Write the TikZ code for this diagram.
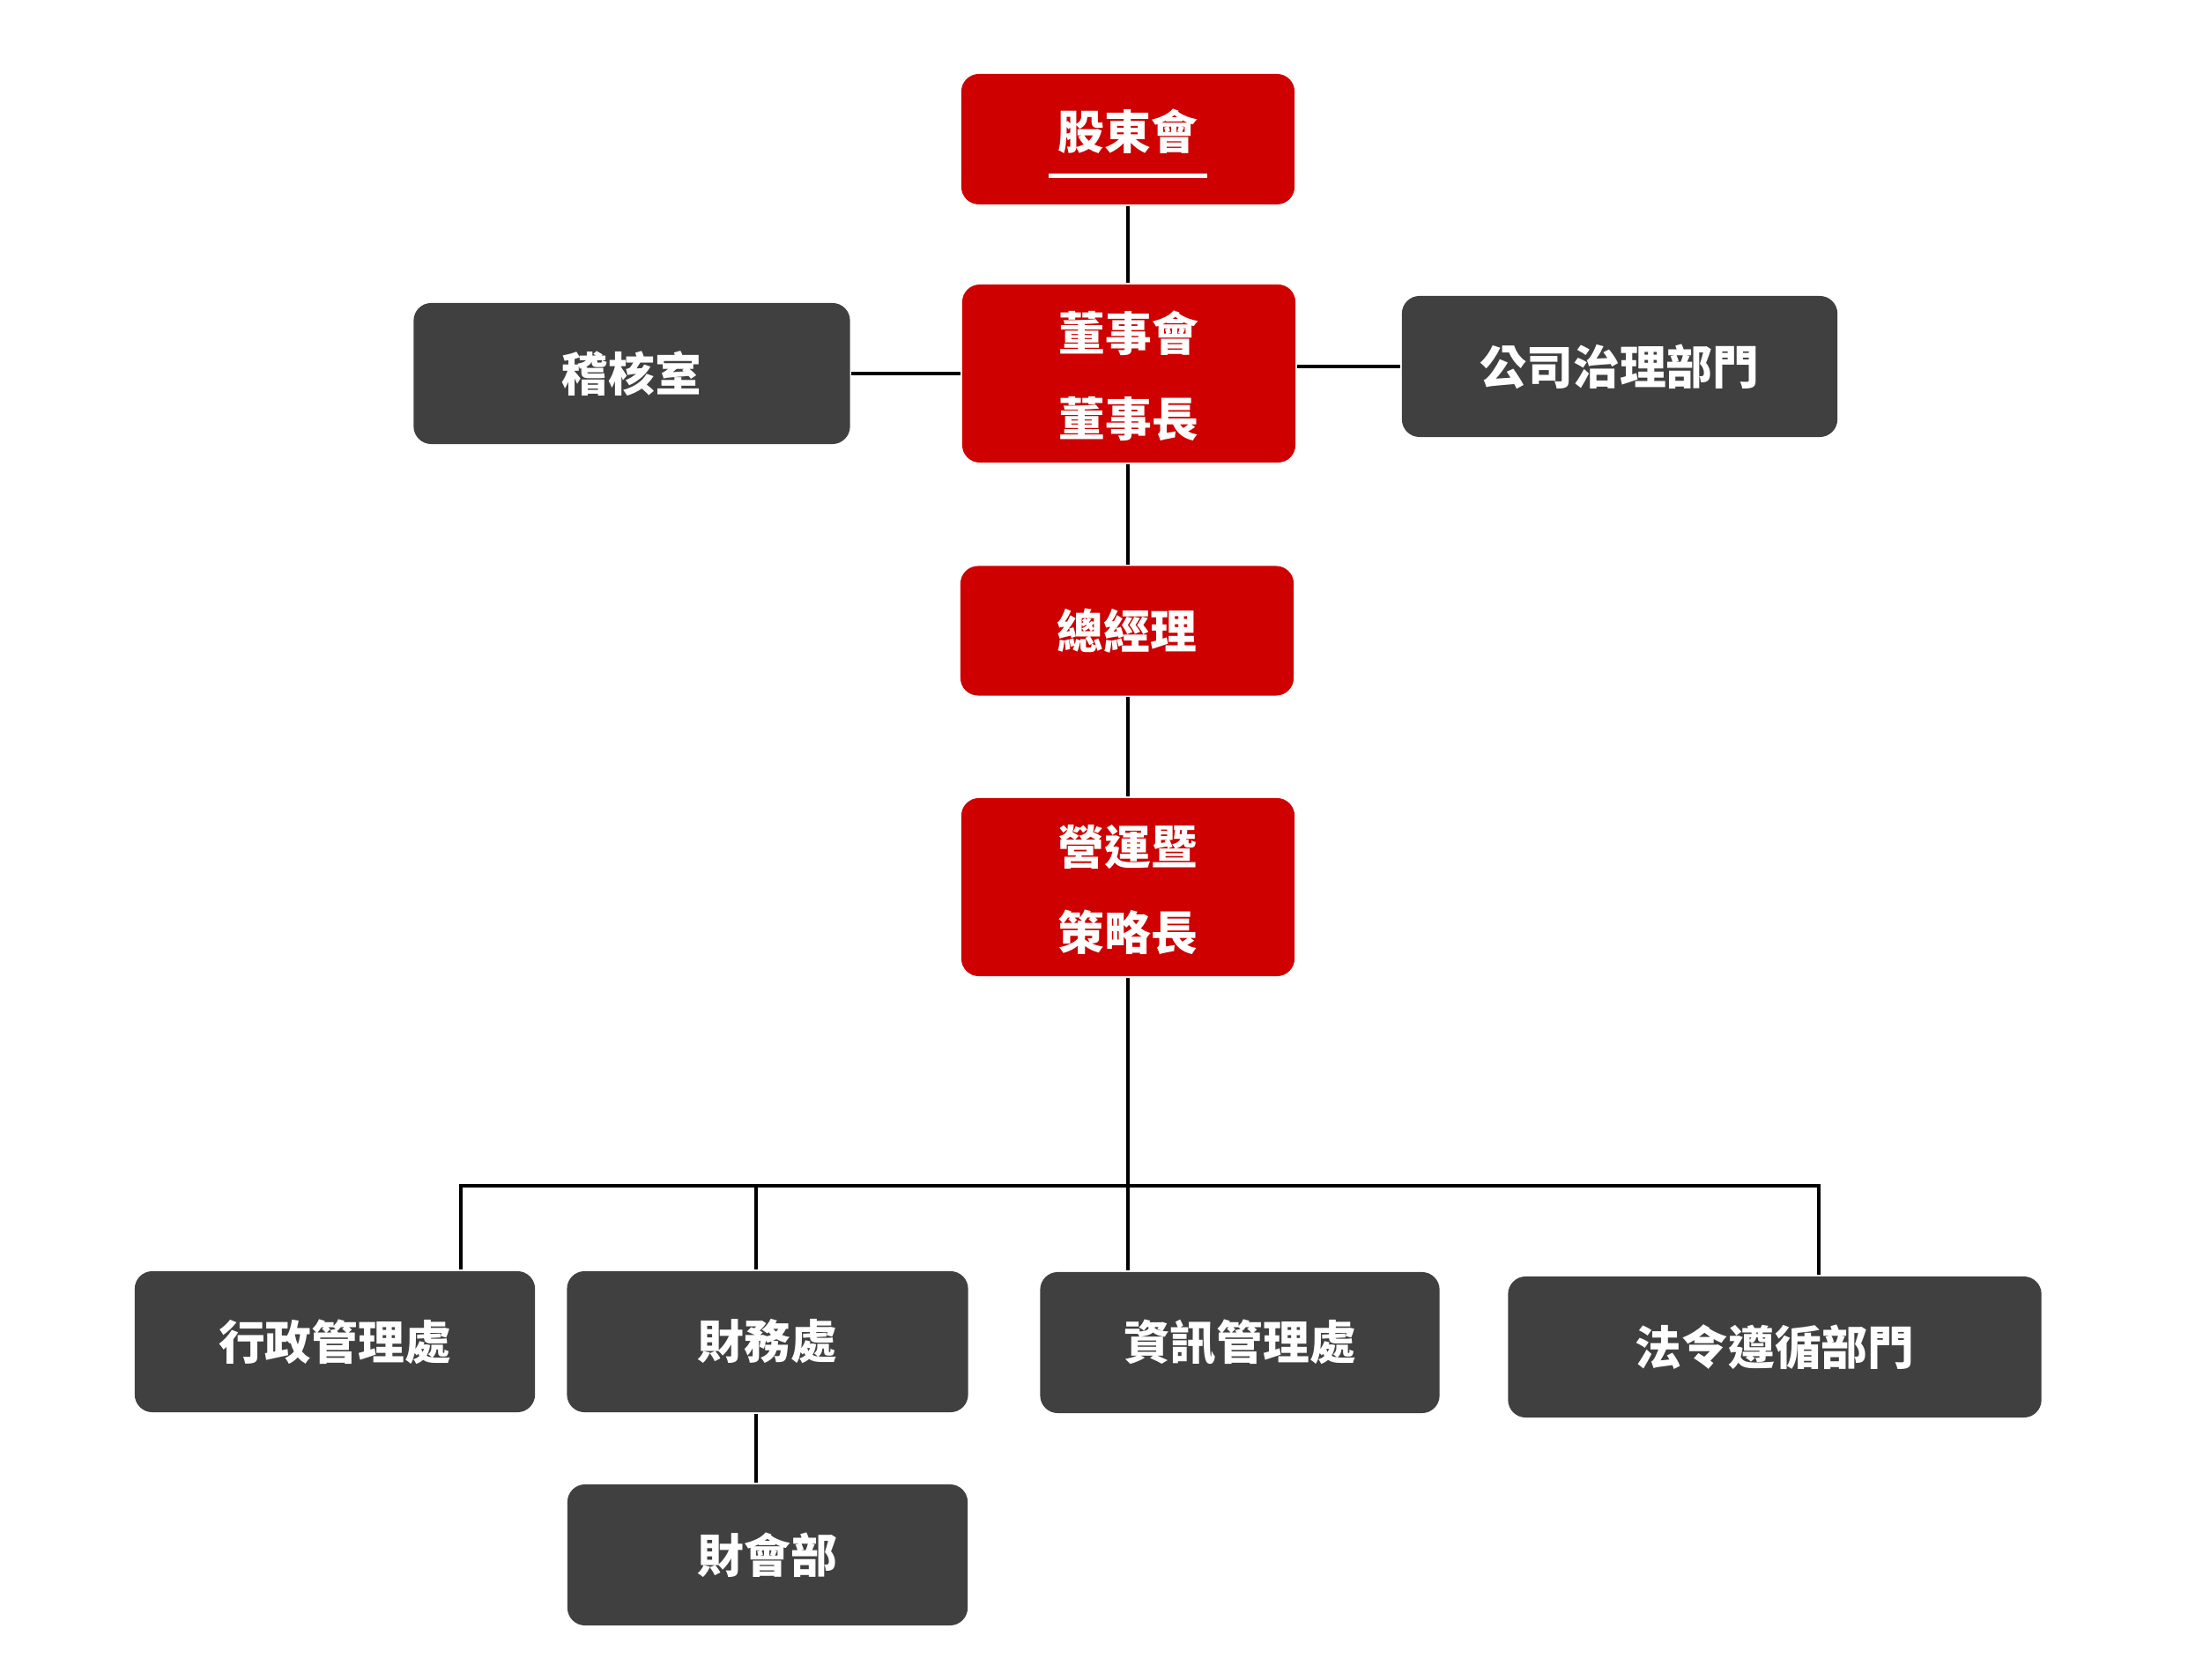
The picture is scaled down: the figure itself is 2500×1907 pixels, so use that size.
\documentclass[tikz,border=0pt]{standalone}
\usepackage{fontspec}
\setmainfont{Noto Sans CJK TC}
\definecolor{boxred}{RGB}{206,0,0}
\definecolor{boxgrey}{RGB}{64,64,64}

\begin{document}
\begin{tikzpicture}[x=0.01cm, y=-0.01cm, line width=0.035cm,
  box/.style={rounded corners=0.2cm, inner sep=0pt, text=white, align=center,
              font=\fontsize{15}{27.5}\selectfont\bfseries},
  redbox/.style={box, fill=boxred, minimum width=3.78cm},
  greybox/.style={box, fill=boxgrey, minimum height=1.6cm}]
  \useasboundingbox (0,0) rectangle (2500,1907);

  \node[redbox, minimum height=1.48cm,
        font=\fontsize{15}{9.25}\selectfont\bfseries] (SH) at (1280,158)  {\rule{0pt}{0.55cm}股東會\\\rule{1.79cm}{0.045cm}};
  \node[redbox, minimum height=2.02cm]                 (BD) at (1281,424)  {\rule{0pt}{0.51cm}董事會\\董事長};
  \node[greybox, minimum width=4.95cm]                 (AU) at (717,424)   {稽核室};
  \node[greybox, minimum width=4.94cm]                 (CG) at (1838,416)  {公司治理部門};
  \node[redbox, minimum height=1.47cm]                 (GM) at (1279,716)  {總經理};
  \node[redbox, minimum height=2.02cm]                 (CS) at (1280,1007) {\rule{0pt}{0.51cm}營運暨\\策略長};
  \node[greybox, minimum width=4.54cm]                 (AD) at (380,1523)  {行政管理處};
  \node[greybox, minimum width=4.55cm]                 (FI) at (871,1523)  {財務處};
  \node[greybox, minimum width=4.54cm]                 (FA) at (871,1765)  {財會部};
  \node[greybox, minimum width=4.53cm]                 (IT) at (1407,1524) {資訊管理處};
  \node[greybox, minimum width=6.05cm]                 (LC) at (2014,1529) {法令遵循部門};

  \coordinate (busL) at (523,1346);
  \coordinate (busF) at (858,1346);
  \coordinate (busM) at (1280,1346);
  \coordinate (busR) at (2064,1346);

  \draw (SH.south) -- (SH.south |- BD.north);
  \draw (BD.south -| SH.south) -- (GM.north -| SH.south);
  \draw (GM.south -| SH.south) -- (CS.north -| SH.south);
  \draw (AU.east) -- (AU.east -| BD.west);
  \draw (CG.west) -- (CG.west -| BD.east);
  \draw (CS.south -| busM) -- (busM) -- (IT.north -| busM);
  \draw (AD.north -| busL) -- (busL) -- (busR) -- (LC.north -| busR);
  \draw (busF) -- (FI.north -| busF);
  \draw (FI.south -| busF) -- (FA.north -| busF);
\end{tikzpicture}
\end{document}
